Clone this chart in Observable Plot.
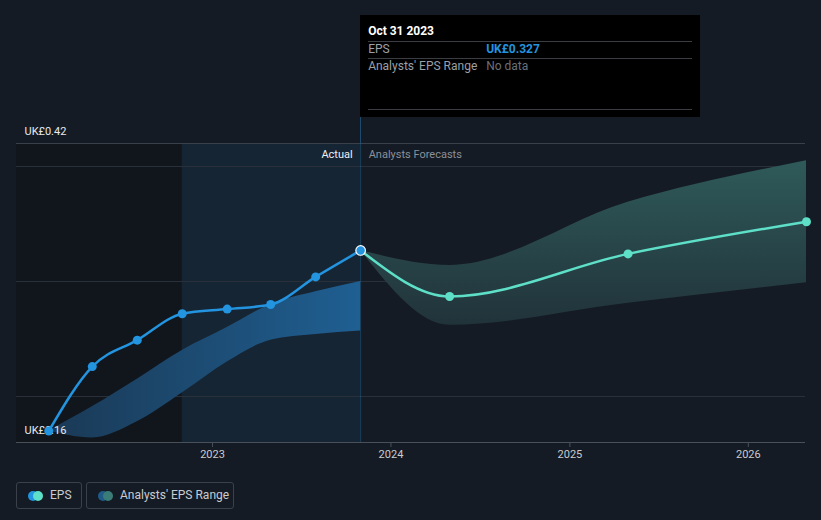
<!DOCTYPE html>
<html><head><meta charset="utf-8">
<script src="https://cdn.jsdelivr.net/npm/d3@7"></script>
<script src="https://cdn.jsdelivr.net/npm/@observablehq/plot@0.6"></script>
<style>
html,body{margin:0;padding:0;background:#151b24;}
body{width:821px;height:520px;overflow:hidden;font-family:Roboto,"Noto Sans",sans-serif;}
#wrap{position:relative;width:821px;height:520px;}
#chart svg{display:block;}
#tip{position:absolute;top:15px;width:340px;height:102px;background:#000;}
#tip .row{position:absolute;left:8px;height:15px;line-height:15px;font-size:12px;white-space:nowrap;}
#tip .hr{position:absolute;left:8px;right:8px;height:1px;background:#3a3d42;}
#vline{position:absolute;width:1px;background:#1d4a6e;}
.lg{position:absolute;top:482px;height:27px;box-sizing:border-box;border:1px solid #3b414b;border-radius:3px;color:#c9ccd1;font-size:12px;line-height:25px;padding-left:33px;}
.lg i{position:absolute;top:7.5px;width:10px;height:10px;border-radius:50%;}
</style></head><body>
<div id="wrap">
<div id="chart"></div>
<div id="vline"></div>
<div id="tip">
  <div class="row" style="top:8px;height:16px;line-height:16px;color:#fff;font-weight:bold;" id="tipTitle"></div>
  <div class="hr" style="top:26px"></div>
  <div class="row" style="top:27px;color:#9ba0a8" id="tipL1"></div>
  <div class="row" style="top:27px;left:126px;color:#2394df;font-weight:bold" id="tipV1"></div>
  <div class="hr" style="top:43px"></div>
  <div class="row" style="top:44px;color:#9ba0a8" id="tipL2"></div>
  <div class="row" style="top:44px;left:126px;color:#6b7078" id="tipV2"></div>
  <div class="hr" style="top:94px"></div>
</div>
<div class="lg" style="left:16px;width:66px"><i style="left:11px;background:#2394df"></i><i style="left:16px;background:#5ee0c8"></i><span id="lg1"></span></div>
<div class="lg" style="left:86px;width:148px"><i style="left:11px;background:#1f5a88"></i><i style="left:16px;background:#3a7d78"></i><span id="lg2"></span></div>
</div>
<script>
// ---- data ----
const epsDates = ["2022-01-31","2022-04-30","2022-07-31","2022-10-31","2023-01-31","2023-04-30","2023-07-31","2023-10-31"];
const epsValues = [0.170,0.226,0.249,0.272,0.276,0.280,0.304,0.327];
const pastRangeLow = [0.170,0.164,0.178,0.203,0.230,0.249,0.254,0.257];
const pastRangeHigh = [0.170,0.191,0.215,0.240,0.260,0.280,0.291,0.300];
const forecastDates = ["2023-10-31","2024-04-30","2025-04-30","2026-04-30"];
const forecastValues = [0.327,0.287,0.324,0.352];
const forecastLow = [0.327,0.262,0.281,0.299];
const forecastHigh = [0.327,0.314,0.369,0.405];
const yearTicks = ["2023-01-01","2024-01-01","2025-01-01","2026-01-01"];
const yLabelValues = [0.42, 0.16];
const gridValues = [0.2, 0.3, 0.4];
const yMin = 0.16, yMax = 0.42;
const domainStart = "2021-11-26", domainEnd = "2026-04-28";
const actualStart = "2022-10-31", reportDate = "2023-10-31";
const sectionLabels = ["Actual", "Analysts Forecasts"];
const legendLabels = ["EPS", "Analysts' EPS Range"];
const tipTitle = "Oct 31 2023";
const tipRows = [["EPS", "UK£0.327"], ["Analysts' EPS Range", "No data"]];

// ---- build ----
const parse = d3.utcParse("%Y-%m-%d");
const eps = epsDates.map((d, i) => ({date: parse(d), value: epsValues[i], low: pastRangeLow[i], high: pastRangeHigh[i]}));
const fc = forecastDates.map((d, i) => ({date: parse(d), value: forecastValues[i], low: forecastLow[i], high: forecastHigh[i]}));
const reportD = parse(reportDate);

const plot = Plot.plot({
  width: 821, height: 462,
  marginLeft: 16, marginRight: 16, marginTop: 143, marginBottom: 20,
  style: {background: "transparent", fontFamily: "Roboto, sans-serif", fontSize: "11px", color: "#c9ccd1"},
  x: {type: "utc", domain: [parse(domainStart), parse(domainEnd)]},
  y: {domain: [yMin, yMax], axis: null},
  marks: [
    Plot.rect([{x1: parse(domainStart), x2: parse(actualStart)}], {x1: "x1", x2: "x2", fill: "#000", fillOpacity: 0.17}),
    Plot.rect([{x1: parse(actualStart), x2: reportD}], {x1: "x1", x2: "x2", fill: "#2394df", fillOpacity: 0.09}),
    Plot.ruleY(gridValues, {stroke: "#2a303a"}),
    Plot.ruleY([yMax], {stroke: "#3a404a"}),
    Plot.ruleY([yMin], {stroke: "#4a505a"}),
    Plot.ruleX([reportD], {stroke: "#2394df", strokeOpacity: 0.3}),
    Plot.axisX(yearTicks.map(parse), {tickSize: 5, tickPadding: 3, tickFormat: "%Y", stroke: "#4a505a", fill: "#c9ccd1", fontSize: 11}),
    Plot.areaY(eps, {x: "date", y1: "low", y2: "high", curve: "monotone-x", fill: "url(#pastGrad)"}),
    Plot.areaY(fc, {x: "date", y1: "low", y2: "high", curve: "monotone-x", fill: "url(#fcGrad)"}),
    Plot.text(yLabelValues, {y: d => d, frameAnchor: "left", dx: 8, dy: -12, textAnchor: "start", text: d => "UK£" + d.toFixed(2), fill: "#e8eaed", fontSize: 11}),
    Plot.text([sectionLabels[0]], {x: () => reportD, y: () => yMax, dx: -8, dy: 11, textAnchor: "end", fill: "#eef0f2", fontSize: 11}),
    Plot.text([sectionLabels[1]], {x: () => reportD, y: () => yMax, dx: 8, dy: 11, textAnchor: "start", fill: "#8b9099", fontSize: 11}),
    Plot.line(eps, {x: "date", y: "value", curve: "monotone-x", stroke: "#2394df", strokeWidth: 2.5}),
    Plot.line(fc, {x: "date", y: "value", curve: "monotone-x", stroke: "#5ee0c8", strokeWidth: 2.5}),
    Plot.dot(eps.slice(0, -1), {x: "date", y: "value", r: 4.5, fill: "#2394df"}),
    Plot.dot(fc.slice(1), {x: "date", y: "value", r: 4.5, fill: "#5ee0c8"}),
    Plot.dot(eps.slice(-1), {x: "date", y: "value", r: 4.8, fill: "#2394df", stroke: "#fff", strokeWidth: 1.2})
  ]
});

const defs = d3.select(plot).insert("defs", ":first-child");
const g1 = defs.append("linearGradient").attr("id", "pastGrad").attr("x1", 0).attr("x2", 1).attr("y1", 0).attr("y2", 0);
g1.append("stop").attr("offset", "0%").attr("stop-color", "#1a3955");
g1.append("stop").attr("offset", "100%").attr("stop-color", "#1f5f92");
const g2 = defs.append("linearGradient").attr("id", "fcGrad").attr("x1", 0).attr("x2", 0).attr("y1", 0).attr("y2", 1);
g2.append("stop").attr("offset", "0%").attr("stop-color", "#2f5a5a");
g2.append("stop").attr("offset", "100%").attr("stop-color", "#21333a");

document.getElementById("chart").appendChild(plot);

const xs = plot.scale("x"), ys = plot.scale("y");
const px = xs.apply(reportD);
const tip = document.getElementById("tip");
tip.style.left = px + "px";
document.getElementById("tipTitle").textContent = tipTitle;
document.getElementById("tipL1").textContent = tipRows[0][0];
document.getElementById("tipV1").textContent = tipRows[0][1];
document.getElementById("tipL2").textContent = tipRows[1][0];
document.getElementById("tipV2").textContent = tipRows[1][1];
const vl = document.getElementById("vline");
vl.style.left = Math.round(px) + "px";
vl.style.top = "117px";
vl.style.height = (ys.apply(yMax) - 117) + "px";
document.getElementById("lg1").textContent = legendLabels[0];
document.getElementById("lg2").textContent = legendLabels[1];
</script>
</body></html>
